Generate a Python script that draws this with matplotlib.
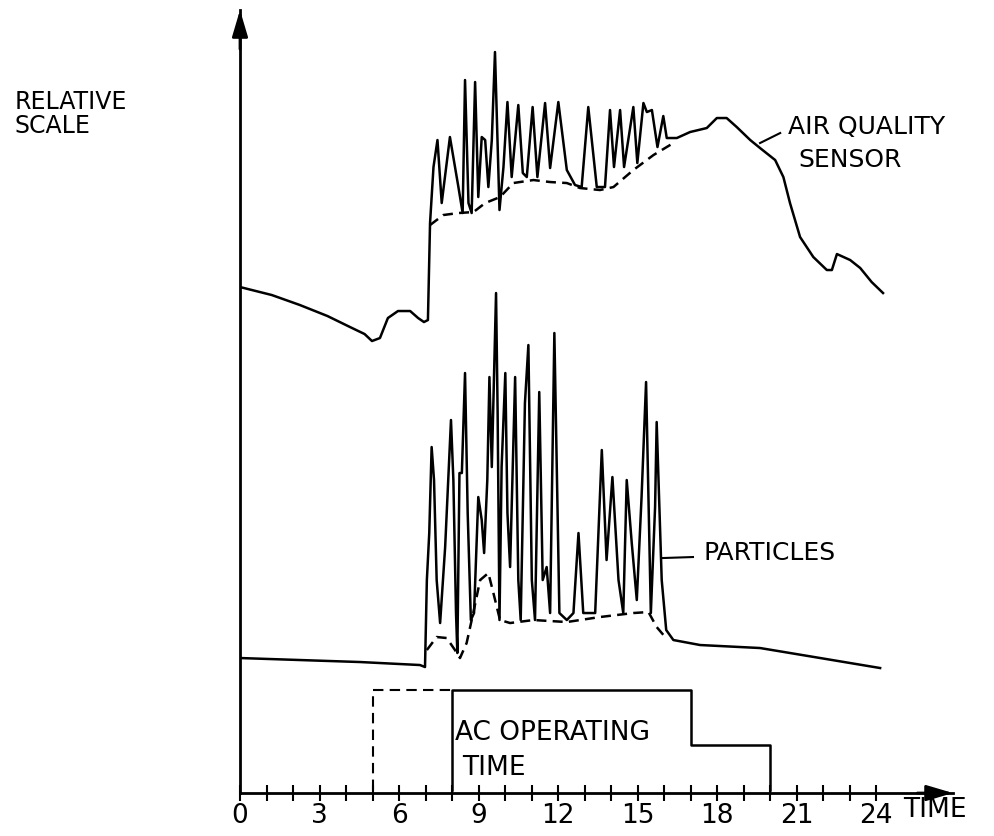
import matplotlib
matplotlib.use("Agg")
import matplotlib.pyplot as plt

# --- data (time in hours, relative scale) ---

# air quality sensor trace
aq_time = [0, 1.2, 2.26, 3.3, 4.15, 4.70, 4.98, 5.28, 5.58, 5.96, 6.42, 6.72, 6.94,
           7.09, 7.17, 7.30, 7.45, 7.61, 7.92, 8.24, 8.40, 8.49, 8.62,
           8.74, 8.87, 8.99, 9.12, 9.25, 9.37, 9.50, 9.62, 9.79, 9.94,
           10.09, 10.25, 10.50, 10.67, 10.82, 11.04, 11.22, 11.51, 11.70, 12.01,
           12.33, 12.64, 12.89, 13.14, 13.46, 13.77, 13.96, 14.11, 14.34, 14.49,
           14.84, 14.99, 15.22, 15.35, 15.54, 15.75, 15.97, 16.10, 16.48, 16.98,
           17.61, 17.99, 18.36, 18.74, 19.25, 19.62, 20.19, 20.50, 20.75, 21.13,
           21.63, 22.14, 22.33, 22.52, 22.77, 23.02, 23.40, 23.83, 24.26]
aq_value = [503, 495, 485, 474, 463, 456, 449, 452, 472, 479, 479, 472, 468,
            470, 567, 623, 650, 587, 653, 603, 577, 710, 587,
            577, 708, 593, 653, 650, 603, 650, 738, 580, 623,
            688, 613, 685, 617, 613, 683, 613, 687, 622, 688,
            620, 605, 603, 683, 603, 603, 680, 623, 680, 623,
            683, 627, 687, 678, 680, 643, 674, 652, 652, 658,
            662, 672, 672, 663, 650, 642, 630, 613, 587, 553,
            533, 520, 520, 536, 533, 530, 522, 508, 497]

# dashed baseline under the air quality spikes
aq_base_time = [7.17, 7.67, 8.24, 8.81, 9.25, 9.81, 10.31, 11.07, 11.70, 12.33,
                12.83, 13.58, 14.09, 14.84, 15.60, 16.35]
aq_base_value = [565, 575, 577, 578, 587, 593, 607, 610, 608, 607,
                 602, 600, 603, 620, 635, 647]

# particle trace
p_time = [0, 2.26, 4.53, 6.79, 6.98, 7.05, 7.14, 7.23, 7.32, 7.42,
          7.55, 7.74, 7.96, 8.05, 8.15, 8.20, 8.28, 8.37, 8.49, 8.59,
          8.71, 8.83, 8.99, 9.12, 9.21, 9.33, 9.41, 9.50, 9.66, 9.72,
          9.79, 9.87, 10.01, 10.09, 10.19, 10.38, 10.50, 10.59, 10.75, 10.88,
          11.01, 11.13, 11.29, 11.42, 11.57, 11.70, 11.86, 12.05, 12.33, 12.58,
          12.77, 12.95, 13.40, 13.65, 13.83, 14.05, 14.28, 14.46, 14.59, 14.78,
          14.97, 15.15, 15.32, 15.50, 15.66, 15.72, 15.91, 16.08, 16.35, 17.36,
          19.62, 21.89, 24.15]
p_value = [132, 130, 128, 125, 123, 210, 257, 343, 310, 210,
           167, 243, 370, 310, 177, 137, 317, 317, 417, 277,
           170, 177, 293, 270, 237, 310, 413, 323, 497, 377,
           170, 323, 417, 277, 223, 413, 210, 170, 387, 445,
           210, 170, 398, 210, 223, 177, 457, 177, 170, 177,
           257, 177, 177, 340, 230, 313, 210, 177, 310, 247,
           190, 293, 408, 177, 283, 368, 210, 160, 150, 145,
           142, 132, 122]

# dashed baseline under the particle spikes
pb_time = [7.05, 7.42, 7.80, 8.11, 8.30, 8.55, 8.80, 9.06, 9.37, 9.56,
           9.81, 10.19, 11.07, 12.33, 13.58, 14.84, 15.41, 15.72, 16.04]
pb_value = [140, 153, 152, 140, 132, 147, 177, 210, 217, 197,
            170, 167, 170, 168, 173, 177, 178, 163, 153]

# AC operating time (step outline)
ac_time = [8, 8, 17, 17, 20, 20]
ac_level = [0, 100, 100, 45, 45, 0]
ac_early_time = [5, 5, 8]
ac_early_level = [0, 100, 100]

tick_hours = list(range(0, 25, 3))
tick_labels = [str(h) for h in tick_hours]

# --- figure ---
fig = plt.figure(figsize=(9.95, 8.36), dpi=100)
ax = fig.add_axes([0.2412, 0.0514, 0.7166, 0.9366])
ax.set_xlim(0, 26.9)
ax.set_ylim(-3, 780)

lw = 1.8
ax.plot(aq_time, aq_value, color="black", lw=lw)
ax.plot(aq_base_time, aq_base_value, color="black", lw=lw, linestyle=(0, (4, 2.5)))
ax.plot(p_time, p_value, color="black", lw=lw)
ax.plot(pb_time, pb_value, color="black", lw=lw, linestyle=(0, (4, 2.5)))
ax.plot(ac_time, ac_level, color="black", lw=lw)
ax.plot(ac_early_time, ac_early_level, color="black", lw=1.5, linestyle=(0, (5, 3)))

# leader lines + labels
ax.plot([19.62, 20.38], [647, 657], color="black", lw=1.5)
ax.plot([15.96, 17.09], [232, 233], color="black", lw=1.5)
ax.text(20.68, 663, "AIR QUALITY", fontsize=18, va="center", ha="left")
ax.text(21.06, 630, "SENSOR", fontsize=18, va="center", ha="left")
ax.text(17.47, 237, "PARTICLES", fontsize=18, va="center", ha="left")
ax.text(8.11, 57, "AC OPERATING", fontsize=19, va="center", ha="left")
ax.text(8.38, 22, "TIME", fontsize=19, va="center", ha="left")
ax.text(25.0, -20, "TIME", fontsize=19, va="center", ha="left", clip_on=False)
fig.text(15 / 995, 1 - 114 / 836, "RELATIVE\nSCALE", fontsize=17,
         va="center", ha="left", linespacing=1.0)

# axes drawn as arrows
for s in ["top", "right"]:
    ax.spines[s].set_visible(False)
ax.spines["left"].set_linewidth(2)
ax.spines["bottom"].set_linewidth(2)
arrow = dict(arrowstyle="-|>,head_length=1.35,head_width=0.4", color="black",
             lw=2, shrinkA=0, shrinkB=0, mutation_scale=12)
ax.annotate("", xy=(1, 0), xytext=(0.95, 0), xycoords="axes fraction", arrowprops=arrow)
ax.annotate("", xy=(0, 1), xytext=(0, 0.95), xycoords="axes fraction", arrowprops=arrow)

ax.set_xticks(tick_hours)
ax.set_xticklabels(tick_labels)
ax.set_xticks(range(0, 25), minor=True)
ax.set_yticks([])
ax.tick_params(axis="x", which="both", direction="inout", length=11, width=1.5, labelsize=19, pad=2)

fig.savefig("out.png", dpi=100)
